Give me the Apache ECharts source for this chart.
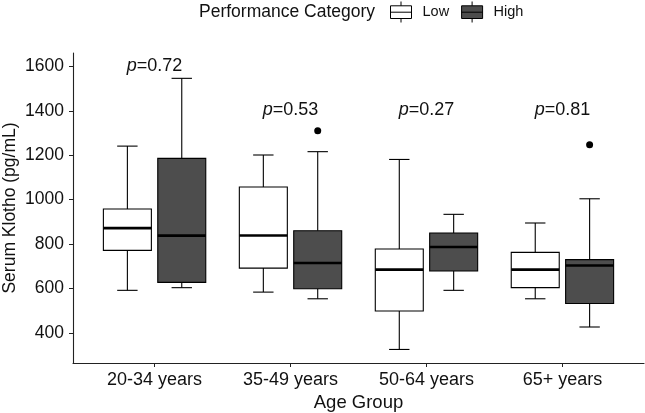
<!DOCTYPE html>
<html>
<head>
<meta charset="utf-8">
<script src="https://cdn.jsdelivr.net/npm/echarts@6/dist/echarts.min.js"></script>
<style>
  html, body { margin: 0; padding: 0; background: #fff; }
  #chart { width: 645px; height: 413px; }
</style>
</head>
<body>
<div id="chart"></div>
<script>
// 数据 data
var categories = ['20-34 years', '35-49 years', '50-64 years', '65+ years'];
// [下须, Q1, 中位数, Q3, 上须]
var lowStats = [
    [592, 772, 872, 958, 1241],
    [584, 692, 839, 1057, 1201],
    [326, 499, 685, 778, 1181],
    [554, 604, 685, 763, 895]
];
var highStats = [
    [604, 628, 838, 1186, 1546],
    [554, 599, 715, 860, 1216],
    [592, 679, 787, 850, 934],
    [427, 533, 704, 730, 1004]
];
// 离群点 [类别序号, 数值]
var highOutliers = [[1, 1310], [3, 1247]];
var pValues = ['0.72', '0.53', '0.27', '0.81'];
var pHeights = [1603, 1405, 1405, 1405];
var yTicks = [400, 600, 800, 1000, 1200, 1400, 1600];

(function () {
    var myChart = echarts.init(document.getElementById('chart'));
    var FONT = 'Liberation Sans';
    var TXT = '#111';
    var dodge = 0.2;   // 左右错开
    var boxW = 0.353;  // 箱体宽度
    var capW = 0.075;  // 须帽宽度

    function toData(stats, off) {
        return stats.map(function (s, i) {
            return [i + 1 + off].concat(s);
        });
    }

    function renderBox(fill) {
        return function (params, api) {
            var x = api.value(0);
            var lo = api.coord([x, api.value(1)]);
            var q1 = api.coord([x, api.value(2)]);
            var md = api.coord([x, api.value(3)]);
            var q3 = api.coord([x, api.value(4)]);
            var hi = api.coord([x, api.value(5)]);
            var unit = api.size([1, 0])[0];
            var hw = unit * boxW / 2;
            var cw = unit * capW;
            var cx = lo[0];
            var line = { stroke: '#000', lineWidth: 1.1 };
            return {
                type: 'group',
                children: [
                    { type: 'line', shape: { x1: cx, y1: lo[1], x2: cx, y2: q1[1] }, style: line },
                    { type: 'line', shape: { x1: cx, y1: q3[1], x2: cx, y2: hi[1] }, style: line },
                    { type: 'line', shape: { x1: cx - cw, y1: lo[1], x2: cx + cw, y2: lo[1] }, style: line },
                    { type: 'line', shape: { x1: cx - cw, y1: hi[1], x2: cx + cw, y2: hi[1] }, style: line },
                    { type: 'rect', shape: { x: cx - hw, y: q3[1], width: hw * 2, height: q1[1] - q3[1] },
                      style: { fill: fill, stroke: '#000', lineWidth: 1.1 } },
                    { type: 'line', shape: { x1: cx - hw, y1: md[1], x2: cx + hw, y2: md[1] },
                      style: { stroke: '#000', lineWidth: 2.6 } }
                ]
            };
        };
    }

    // 图例里的箱线小图标
    var legendIcon = 'path://M0,4.3 L21,4.3 L21,17 L0,17 Z M0,10.7 L21,10.7 M10.5,0 L10.5,4.3 M10.5,17 L10.5,21';

    var option = {
        animation: false,
        backgroundColor: '#fff',
        textStyle: { fontFamily: FONT },
        title: {
            text: 'Performance Category',
            left: 199,
            top: 3,
            padding: 0,
            textStyle: { fontFamily: FONT, fontSize: 17.5, fontWeight: 'normal', color: TXT }
        },
        legend: {
            left: 390,
            top: 1,
            padding: 0,
            itemWidth: 21,
            itemHeight: 21,
            itemGap: 12,
            textStyle: { fontFamily: FONT, fontSize: 14.5, color: TXT, padding: [2, 0, 0, 6] },
            data: [
                { name: 'Low', icon: legendIcon, itemStyle: { color: '#fff', borderColor: '#000', borderWidth: 1 } },
                { name: 'High', icon: legendIcon, itemStyle: { color: '#4d4d4d', borderColor: '#000', borderWidth: 1 } }
            ]
        },
        grid: { left: 73, right: 1, top: 53, bottom: 50, outerBoundsMode: 'none', containLabel: false },
        xAxis: {
            type: 'value',
            min: 0.4,
            max: 4.6,
            name: 'Age Group',
            nameLocation: 'middle',
            nameGap: 30,
            nameMoveOverlap: false,
            nameTextStyle: { fontFamily: FONT, fontSize: 18.5, color: TXT },
            splitLine: { show: false },
            axisLine: { lineStyle: { color: '#222', width: 1.1 } },
            axisTick: { customValues: [1, 2, 3, 4], length: 4, lineStyle: { color: '#222' } },
            axisLabel: {
                customValues: [1, 2, 3, 4],
                formatter: function (v) { return categories[Math.round(v) - 1]; },
                fontFamily: FONT, fontSize: 18, color: TXT, margin: 8
            }
        },
        yAxis: {
            type: 'value',
            min: 265,
            max: 1660,
            name: 'Serum Klotho (pg/mL)',
            nameLocation: 'middle',
            nameGap: 54,
            nameMoveOverlap: false,
            nameTextStyle: { fontFamily: FONT, fontSize: 17.5, color: TXT },
            splitLine: { show: false },
            axisLine: { show: true, lineStyle: { color: '#222', width: 1.1 } },
            axisTick: { show: true, customValues: yTicks, length: 4, lineStyle: { color: '#222' } },
            axisLabel: {
                customValues: yTicks,
                formatter: function (v) { return String(v); },
                fontFamily: FONT, fontSize: 17.5, color: TXT, margin: 9
            }
        },
        series: [
            {
                name: 'Low',
                type: 'custom',
                renderItem: renderBox('#fff'),
                encode: { x: 0, y: [1, 2, 3, 4, 5] },
                itemStyle: { color: '#fff', borderColor: '#000' },
                data: toData(lowStats, -dodge)
            },
            {
                name: 'High',
                type: 'custom',
                renderItem: renderBox('#4d4d4d'),
                encode: { x: 0, y: [1, 2, 3, 4, 5] },
                itemStyle: { color: '#4d4d4d', borderColor: '#000' },
                data: toData(highStats, dodge)
            },
            {
                name: 'outliers',
                type: 'scatter',
                symbolSize: 7,
                itemStyle: { color: '#000', opacity: 1 },
                data: highOutliers.map(function (o) { return [o[0] + 1 + dodge, o[1]]; })
            },
            {
                name: 'pval',
                type: 'scatter',
                symbolSize: 0,
                itemStyle: { opacity: 1 },
                label: {
                    show: true,
                    position: 'inside',
                    formatter: function (p) { return '{i|p}{n|=' + pValues[p.dataIndex] + '}'; },
                    rich: {
                        i: { fontFamily: FONT, fontSize: 18, fontStyle: 'italic', color: TXT },
                        n: { fontFamily: FONT, fontSize: 18, color: TXT }
                    }
                },
                data: pHeights.map(function (h, i) { return [i + 1, h]; })
            }
        ]
    };

    myChart.setOption(option);
    window.addEventListener('resize', function () {
        myChart.resize();
    });
})();
</script>
</body>
</html>
